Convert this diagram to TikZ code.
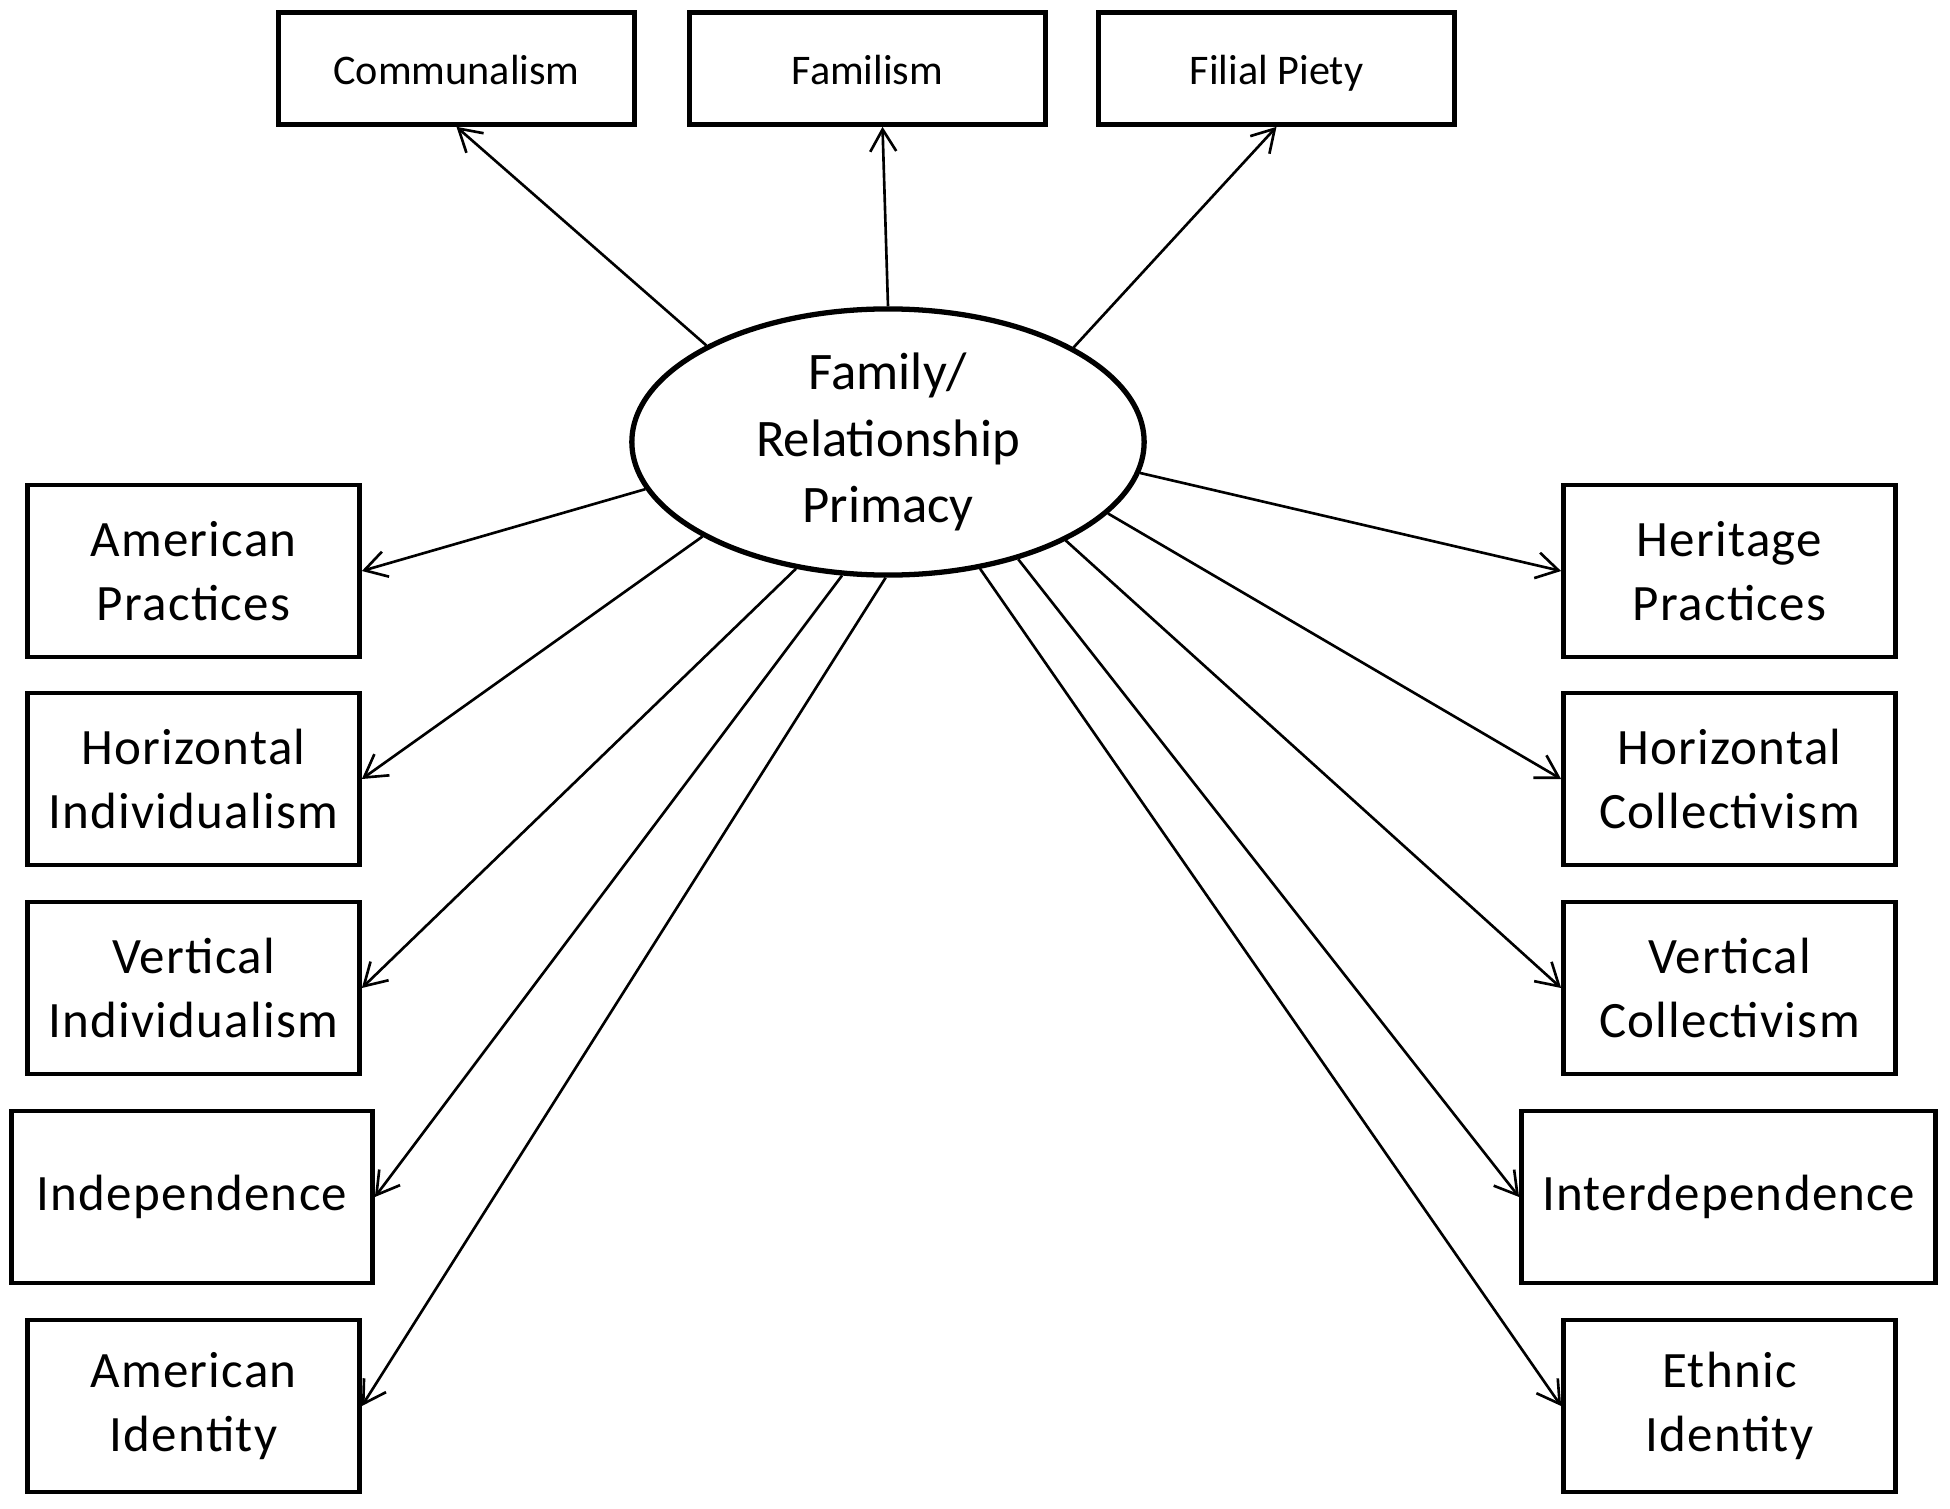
\documentclass[tikz,border=0pt]{standalone}
\usepackage{fontspec}
\setmainfont{Carlito}
\usetikzlibrary{arrows.meta,shapes.geometric}
\begin{document}
\begin{tikzpicture}[x=0.01cm,y=-0.01cm,
  box/.style={draw,line width=1.3pt,align=center,inner sep=0pt,font=\fontsize{14.5}{18.2}\selectfont\addfontfeatures{LetterSpace=2.5},minimum height=1.72cm},
  sbox/.style={box,minimum width=3.32cm},
  topbox/.style={draw,line width=1.3pt,inner sep=0pt,font=\fontsize{12}{14}\selectfont,text height=11pt,text depth=2pt,minimum width=3.56cm,minimum height=1.12cm},
  ell/.style={draw,ellipse,line width=1.5pt,inner sep=0pt,minimum width=5.12cm,minimum height=2.66cm,align=center,font=\fontsize{15}{19}\selectfont},
  arr/.style={-{Straight Barb[length=2.2mm,width=2.6mm]},line width=0.75pt}]
\useasboundingbox (0,0) rectangle (1950,1509);
% top boxes
\node[topbox] (comm) at (456.5,68.5) {Communalism};
\node[topbox] (fam) at (867.5,68.5) {Familism};
\node[topbox] (fil) at (1276.5,68.5) {Filial Piety};
% centre
\node[ell] (core) at (888,442) {Family/\\Relationship\\Primacy};
% left boxes
\node[sbox] (amp) at (193.5,571) {American\\Practices};
\node[sbox] (hi) at (193.5,779) {Horizontal\\Individualism};
\node[sbox] (vi) at (193.5,988) {Vertical\\Individualism};
\node[box,minimum width=3.61cm] (ind) at (192,1197) {Independence};
\node[sbox] (ami) at (193.5,1406) {American\\Identity};
% right boxes
\node[sbox] (hp) at (1729.5,571) {Heritage\\Practices};
\node[sbox] (hc) at (1729.5,779) {Horizontal\\Collectivism};
\node[sbox] (vc) at (1729.5,988) {Vertical\\Collectivism};
\node[box,minimum width=4.14cm] (inter) at (1728.5,1197) {Interdependence};
\node[sbox] (eth) at (1729.5,1406) {Ethnic\\Identity};
% connectors
\draw[arr] (core.152.3) -- (comm.south);
\draw[arr] (core.90) -- ([xshift=0.15cm]fam.south);
\draw[arr] (core.27.4) -- (fil.south);
\draw[arr] (core.191.7) -- (amp.east);
\draw[arr] (core.207.8) -- (hi.east);
\draw[arr] (core.234.2) -- (vi.east);
\draw[arr] (core.251.2) -- (ind.east);
\draw[arr] (core.269) -- (ami.east);
\draw[arr] (core.353.1) -- (hp.west);
\draw[arr] (core.342.9) -- (hc.west);
\draw[arr] (core.331.8) -- (vc.west);
\draw[arr] (core.318) -- (inter.west);
\draw[arr] (core.306.8) -- (eth.west);
\end{tikzpicture}
\end{document}
